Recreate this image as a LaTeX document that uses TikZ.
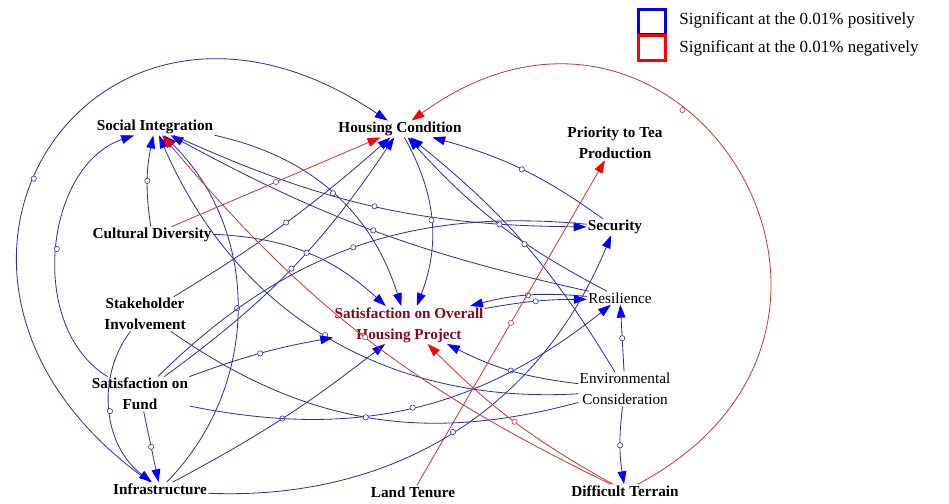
\documentclass[tikz,border=0pt]{standalone}
\usepackage{fontspec}
\setmainfont{Liberation Serif}
\usetikzlibrary{arrows.meta}

\definecolor{posline}{RGB}{45,45,175}
\definecolor{poshead}{RGB}{0,0,255}
\definecolor{negline}{RGB}{200,55,55}
\definecolor{neghead}{RGB}{255,0,0}
\definecolor{goalred}{RGB}{130,10,30}

\tikzset{
	var/.style={align=center,inner sep=1pt,font=\fontsize{13}{18}\selectfont},
	keytext/.style={anchor=west,inner sep=1pt,font=\fontsize{14.5}{18}\selectfont},
	posarrow/.style={draw=posline,line width=0.7pt,-{Triangle[length=11pt,width=7.5pt,color=poshead]}},
	negarrow/.style={draw=negline,line width=0.7pt,-{Triangle[length=11pt,width=7.5pt,color=neghead]}},
	poslink/.style={draw=posline,line width=0.7pt},
	posdot/.style={circle,draw=posline,fill=white,inner sep=0pt,minimum size=4.5pt,line width=0.5pt},
	negdot/.style={circle,draw=negline,fill=white,inner sep=0pt,minimum size=4.5pt,line width=0.5pt},
	legbox/.style={draw,line width=2.2pt,inner sep=0pt,minimum width=0.8cm,minimum height=0.74cm},
}

\begin{document}
\begin{tikzpicture}[x=0.03cm,y=-0.03cm]
	\useasboundingbox (0,0) rectangle (949,504);

	\node[var] (si)   at (155,127) {\textbf{Social Integration}};
	\node[var] (hc)   at (400,129) {\textbf{Housing Condition}};
	\node[var] (ptp)  at (615,143) {\textbf{Priority to Tea}\\\textbf{Production}};
	\node[var] (cd)   at (152,235) {\textbf{Cultural Diversity}};
	\node[var] (sec)  at (615,227) {\textbf{Security}};
	\node[var] (sh)   at (145,314) {\textbf{Stakeholder}\\\textbf{Involvement}};
	\node[var,text=goalred] (sohp) at (409,325) {\textbf{Satisfaction on Overall}\\\textbf{Housing Project}};
	\node[var] (res)  at (620,298) {Resilience};
	\node[var] (sf)   at (140,394) {\textbf{Satisfaction on}\\\textbf{Fund}};
	\node[var] (ec)   at (625,389) {Environmental\\Consideration};
	\node[var] (inf)  at (160,489) {\textbf{Infrastructure}};
	\node[var] (lt)   at (413,492) {\textbf{Land Tenure}};
	\node[var] (dt)   at (625,491) {\textbf{Difficult Terrain}};

	% legend
	\node[legbox,draw=poshead] (kpos) at (652,22) {};
	\node[legbox,draw=neghead] (kneg) at (652,48) {};
	\node[keytext] (tpos) at (678,20) {Significant at the 0.01\% positively};
	\node[keytext] (tneg) at (678,48) {Significant at the 0.01\% negatively};

	% positive links
	\draw[posarrow] (sf) to[bend left=65] node[posdot]{} (si);
	\draw[posarrow] (cd) to[bend left=10] node[posdot]{} (si);
	\draw[posarrow] (inf) to[bend right=45] node[posdot]{} (si);
	\draw[posarrow] (res) to[bend left=8] node[posdot]{} (si);
	\draw[posarrow] (ec) to[bend left=35] node[posdot]{} (si);
	\draw[posarrow] (si) to[bend right=12] node[posdot]{} (sec);
	\draw[posarrow] (sh) to[bend right=5] node[posdot]{} (hc);
	\draw[posarrow] (sf) to[bend right=10] node[posdot]{} (hc);
	\draw[posarrow] (inf) to[out=145,in=146,looseness=2.1] node[posdot,pos=0.45]{} (hc);
	\draw[posarrow] (res) to[bend left=10] node[posdot]{} (hc);
	\draw[posarrow] (ec) to[bend right=10] node[posdot]{} (hc);
	\draw[posarrow] (sec) to[bend right=10] node[posdot]{} (hc);
	\draw[posarrow] (hc) to[bend left=25] node[posdot]{} (sohp);
	\draw[posarrow] (si) to[bend left=30] node[posdot]{} (sohp);
	\draw[posarrow] (cd) to[bend left=20] node[posdot]{} (sohp);
	\draw[posarrow] (sf) to[bend left=5] node[posdot]{} (sohp);
	\draw[posarrow] (inf) to[bend right=5] node[posdot]{} (sohp);
	\draw[posarrow] (res) to[bend right=10] node[posdot]{} (sohp);
	\draw[posarrow] (ec) to[bend left=10] node[posdot]{} (sohp);
	\draw[posarrow] (sohp) to[bend left=5] node[posdot]{} (res);
	\draw[posarrow] (ec) to node[posdot]{} (res);
	\draw[posarrow] (ec) to[bend right=8] node[posdot]{} (dt);
	\draw[posarrow] (sf) to node[posdot]{} (inf);
	\draw[posarrow] (sh) to[bend right=45] node[posdot]{} (inf);
	\draw[posarrow] (inf) to[bend right=35] node[posdot]{} (sec);
	\draw[posarrow] (sf) to[bend right=25] node[posdot]{} (res);
	\draw[poslink] (sh) to[bend right=25] node[posdot]{} (ec);
	\draw[poslink] (sec) to[bend right=25] node[posdot]{} (sf);

	% negative links
	\draw[negarrow] (cd) to node[negdot]{} (hc);
	\draw[negarrow] (dt) to[bend left=12] node[negdot]{} (si);
	\draw[negarrow] (dt) to[bend left=8] node[negdot]{} (sohp);
	\draw[negarrow] (lt) to node[negdot]{} (ptp);
	\draw[negarrow] (dt) to[out=28,in=36,looseness=2] node[negdot,pos=0.62]{} (hc);
\end{tikzpicture}
\end{document}
